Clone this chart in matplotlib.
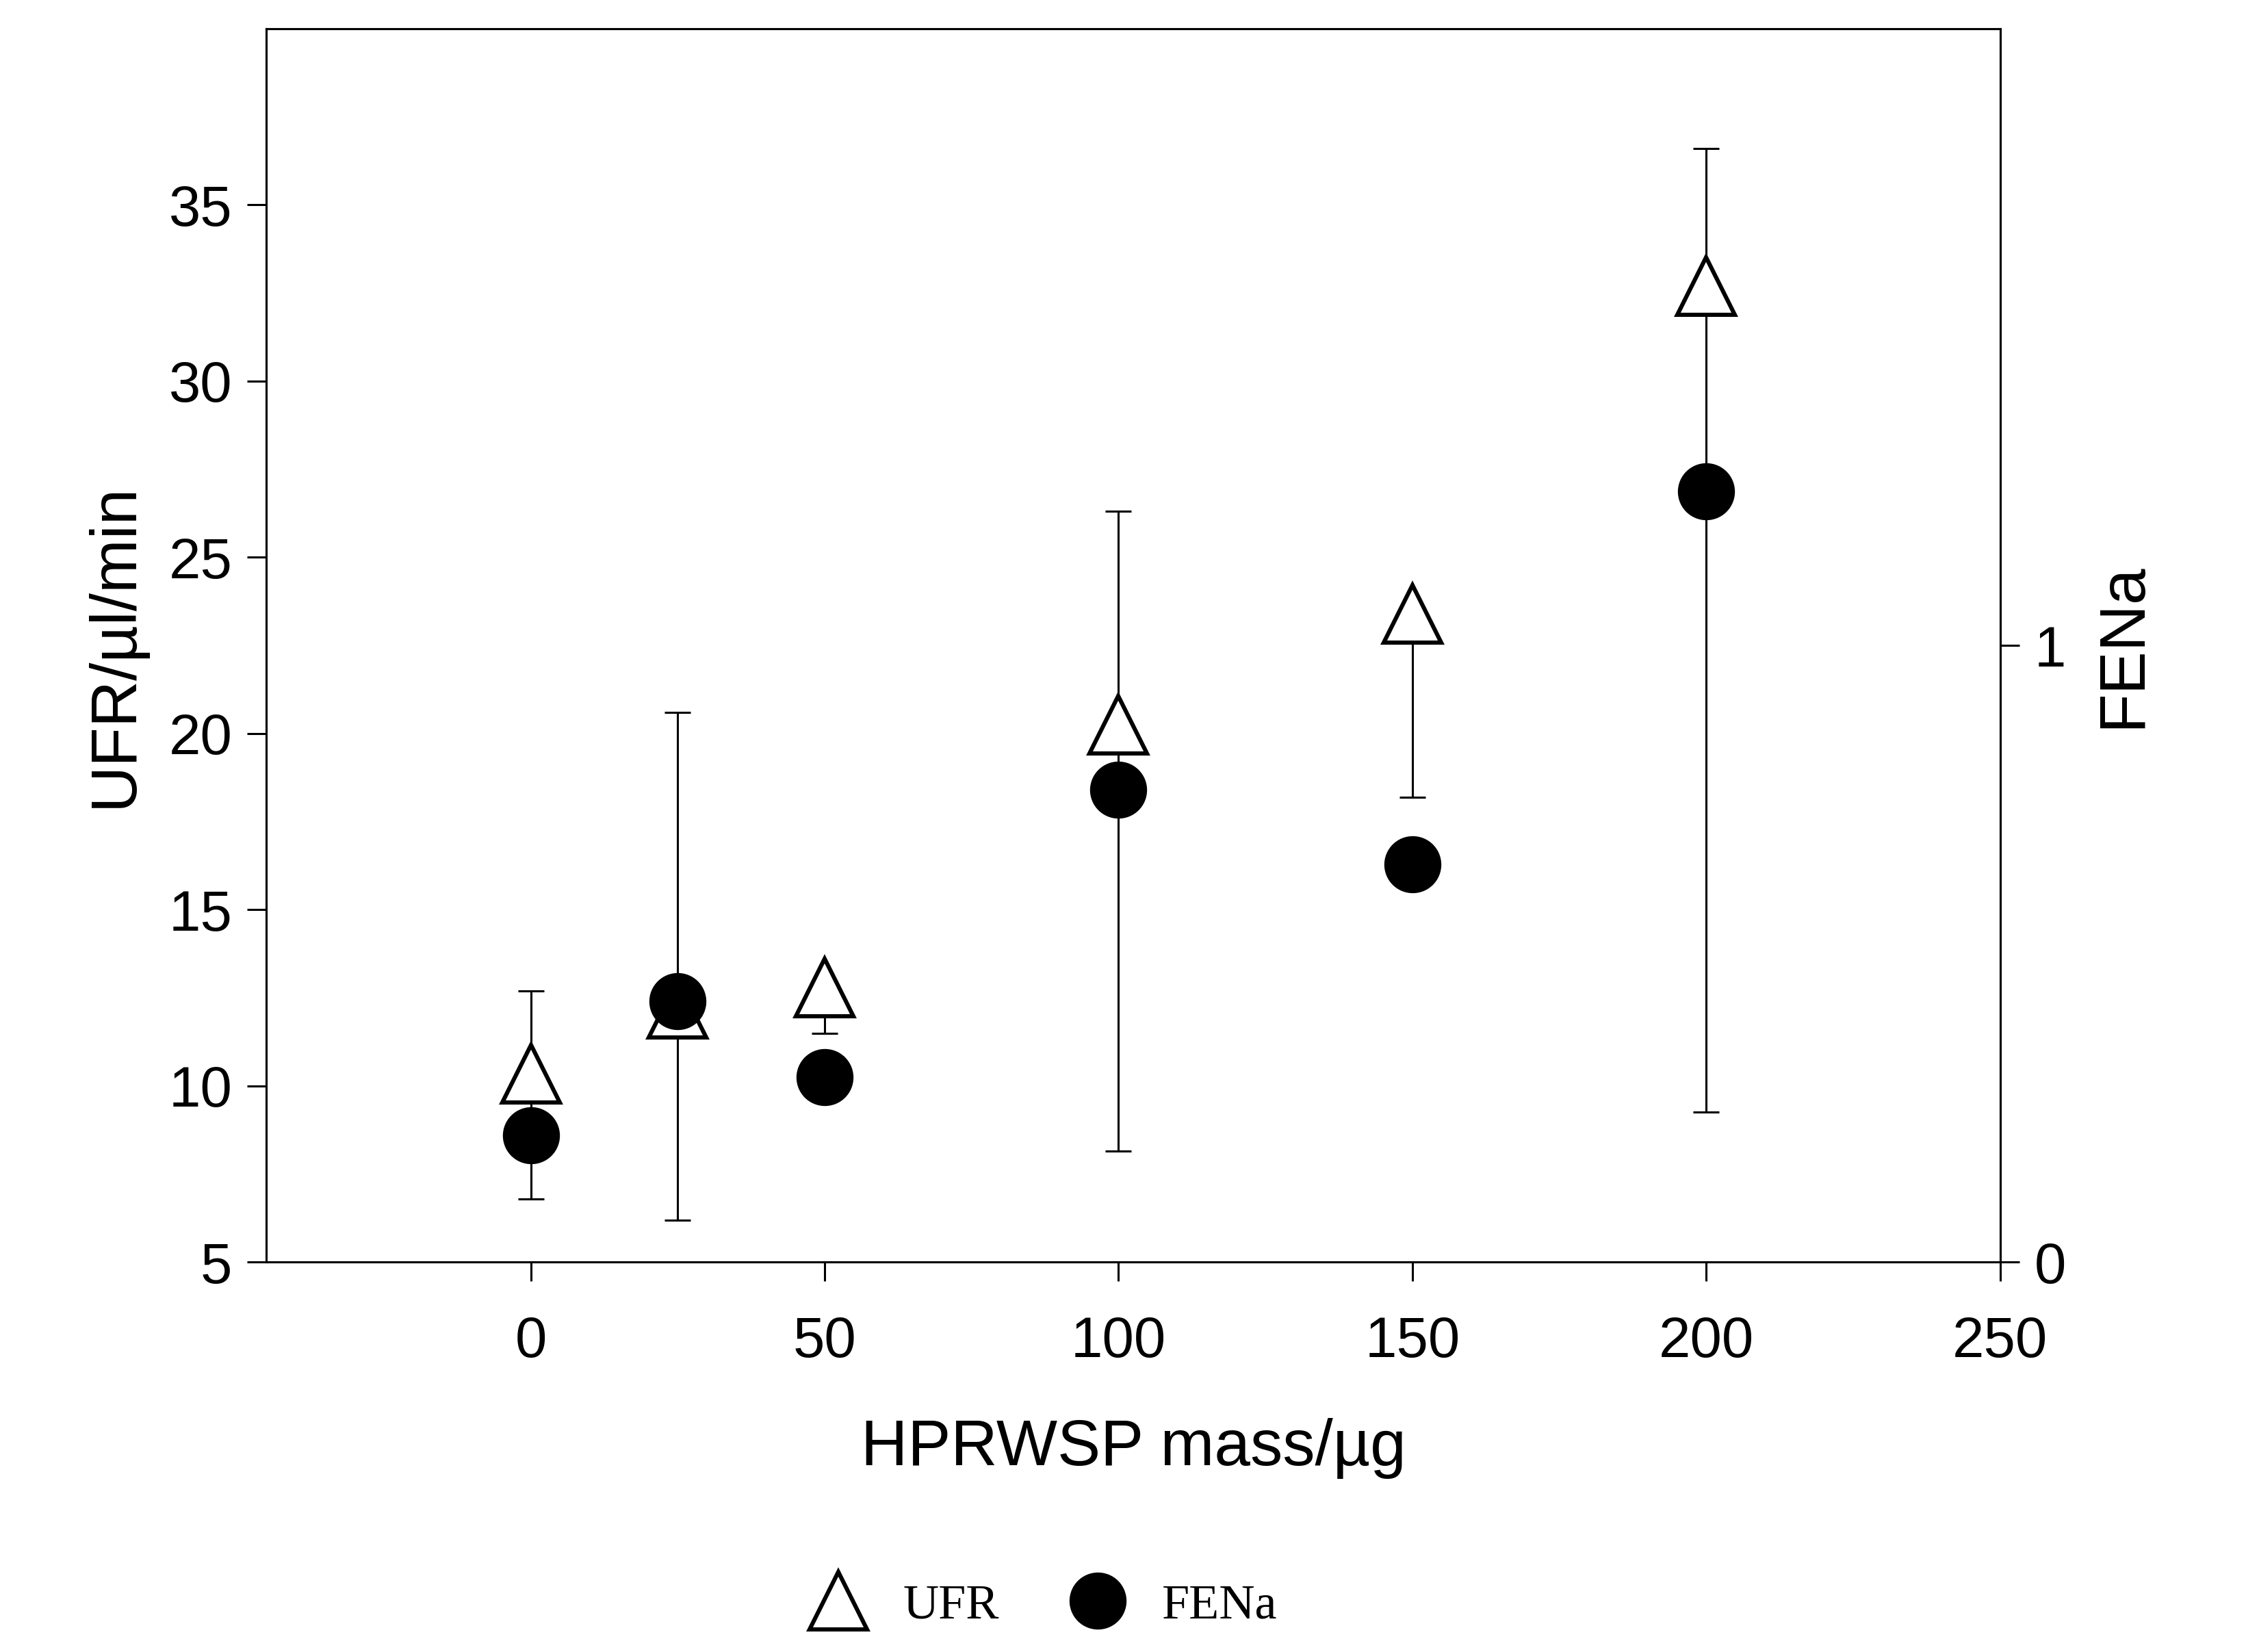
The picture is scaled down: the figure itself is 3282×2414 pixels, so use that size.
import matplotlib
matplotlib.use("Agg")
import matplotlib.pyplot as plt
from matplotlib.lines import Line2D

mass = [0, 25, 50, 100, 150, 200]
ufr = [10.35, 12.2, 12.8, 20.25, 23.4, 32.7]
ufr_err_low = [3.55, 6.0, 1.3, 12.1, 5.2, 23.45]
ufr_err_high = [2.35, 8.4, 0.0, 6.05, 0.0, 3.9]
fena = [0.206, 0.423, 0.30, 0.766, 0.645, 1.25]

plt.rcParams['font.family'] = ['Liberation Sans', 'DejaVu Sans']
fig = plt.figure(figsize=(16.41, 12.07), dpi=200)
ax = fig.add_axes([0.1186, 0.236, 0.8905 - 0.1186, 0.9826 - 0.236])
ax2 = ax.twinx()

ax.errorbar(mass, ufr, yerr=[ufr_err_low, ufr_err_high], fmt='none',
            ecolor='black', elinewidth=1.1, capsize=7, capthick=1.1, zorder=1)
ax.plot(mass, ufr, linestyle='none', marker='^', markersize=30,
        markerfacecolor='white', markeredgecolor='black', markeredgewidth=2.2, zorder=3)
ax2.plot(mass, fena, linestyle='none', marker='o', markersize=29,
         color='black', zorder=3)

ax.set_xlim(-45, 250)
ax.set_ylim(5, 40)
ax2.set_ylim(0, 2)
ax.set_xticks([0, 50, 100, 150, 200, 250])
ax.set_yticks([5, 10, 15, 20, 25, 30, 35])
ax2.set_yticks([0, 1])
for a in (ax, ax2):
    a.tick_params(labelsize=30, length=10, width=1.1, direction='out', pad=8)
    for s in a.spines.values():
        s.set_linewidth(1.1)
ax.tick_params(axis='x', pad=18)
ax.set_xlabel('HPRWSP mass/µg', fontsize=34, labelpad=26)
ax.set_ylabel('UFR/µl/min', fontsize=34, labelpad=12)
ax2.set_ylabel('FENa', fontsize=34, labelpad=14)

handles = [Line2D([], [], linestyle='none', marker='^', markersize=30, markerfacecolor='white',
                  markeredgecolor='black', markeredgewidth=2.2),
           Line2D([], [], linestyle='none', marker='o', markersize=29, color='black')]
fig.legend(handles, ['UFR', 'FENa'], loc='center', bbox_to_anchor=(0.46, 0.028), ncol=2,
           frameon=False, prop={'family': 'Liberation Serif', 'size': 26},
           handletextpad=0.3, columnspacing=1.0)
fig.savefig('out.png', dpi=200)
